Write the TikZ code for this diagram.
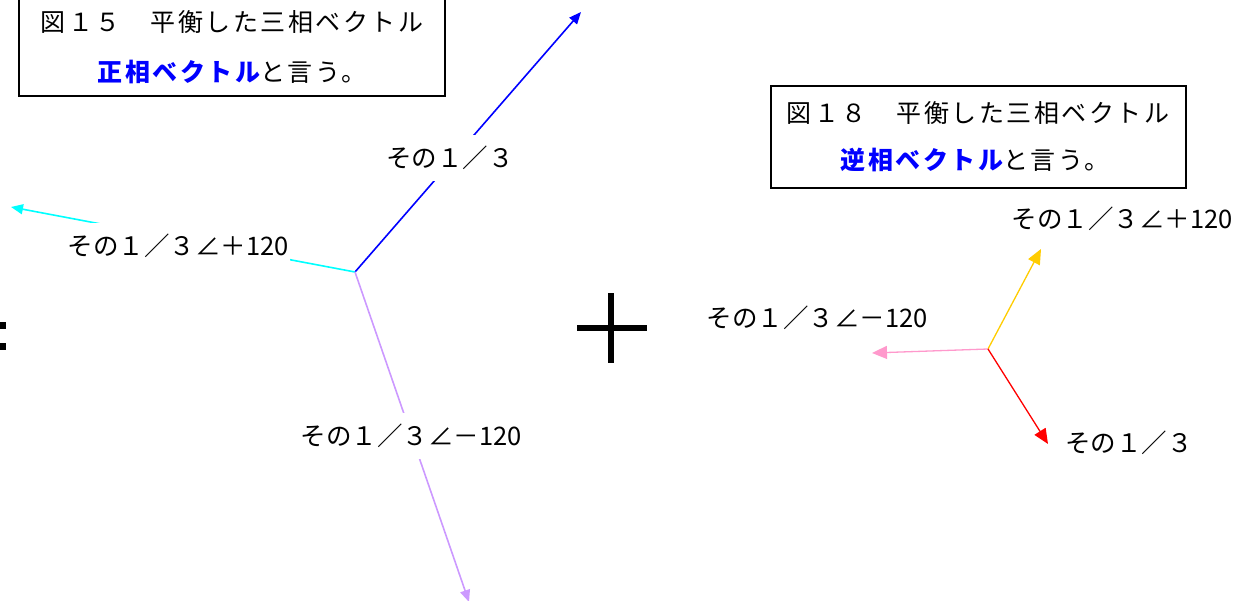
\documentclass[tikz,border=0pt]{standalone}
\usepackage{fontspec}
\setmainfont{Noto Sans CJK JP}
\newfontfamily\jplab{Noto Sans CJK JP}
\newfontfamily\jpbox[LetterSpace=10]{Noto Sans CJK JP}
\usetikzlibrary{arrows.meta}
\definecolor{vblue}{RGB}{0,0,255}
\definecolor{vcyan}{RGB}{0,255,255}
\definecolor{vpurple}{RGB}{204,153,255}
\definecolor{vyellow}{RGB}{255,204,0}
\definecolor{vpink}{RGB}{255,153,204}
\definecolor{vred}{RGB}{255,0,0}
\tikzset{
  vec/.style={line width=1.6pt,-{Triangle[length=12pt,width=10pt]}},
  vecs/.style={line width=1.3pt,-{Triangle[length=15pt,width=13pt]}},
  lab/.style={font=\jplab\fontsize{25.5}{25.5}\selectfont, inner sep=2pt},
  labw/.style={lab, fill=white, inner ysep=11pt},
  boxtxt/.style={font=\jpbox\fontsize{25}{25}\selectfont, inner sep=0pt},
  frame/.style={draw, line width=1.3pt}
}
\begin{document}
\begin{tikzpicture}[x=1pt,y=-1pt]
\useasboundingbox (0,0) rectangle (1236,601);
% left figure box
\node[frame, minimum width=426pt, minimum height=106pt] (box1) at (232,43) {};
\node[boxtxt] (b1l1) at (232,22) {図１５　平衡した三相ベクトル};
\node[boxtxt] (b1l2) at (232,72) {\textcolor{vblue}{\bfseries 正相ベクトル}と言う。};
% right figure box
\node[frame, minimum width=415pt, minimum height=102pt] (box2) at (978.5,137) {};
\node[boxtxt] (b2l1) at (978,113) {図１８　平衡した三相ベクトル};
\node[boxtxt] (b2l2) at (975,160) {\textcolor{vblue}{\bfseries 逆相ベクトル}と言う。};
% equals sign (cut at left edge)
\fill (-20,322) rectangle (6,329);
\fill (-20,343) rectangle (6,350);
% plus sign
\fill (608,293) rectangle (614,363);
\fill (577,325) rectangle (647,331);
% left vectors
\coordinate (o1) at (355,272);
\coordinate (e1a) at (581,12);
\coordinate (e1b) at (11,207);
\coordinate (e1c) at (469,602);
\draw[vec, vblue] (o1) -- (e1a);
\draw[vec, vcyan] (o1) -- (e1b);
\draw[vec, vpurple] (o1) -- (e1c);
\node[labw] (l1a) at (450,158) {その１／３};
\node[labw] (l1b) at (178,246) {その１／３∠＋120};
\node[labw] (l1c) at (411,436) {その１／３∠－120};
% right vectors
\coordinate (o2) at (988,349);
\coordinate (e2a) at (1041,249);
\coordinate (e2b) at (872,353);
\coordinate (e2c) at (1048,444);
\draw[vecs, vyellow] (o2) -- (e2a);
\draw[vecs, vpink] (o2) -- (e2b);
\draw[vecs, vred] (o2) -- (e2c);
\node[lab] (l2a) at (1122,219) {その１／３∠＋120};
\node[lab] (l2b) at (817,318) {その１／３∠－120};
\node[lab] (l2c) at (1129,443) {その１／３};
\end{tikzpicture}
\end{document}
